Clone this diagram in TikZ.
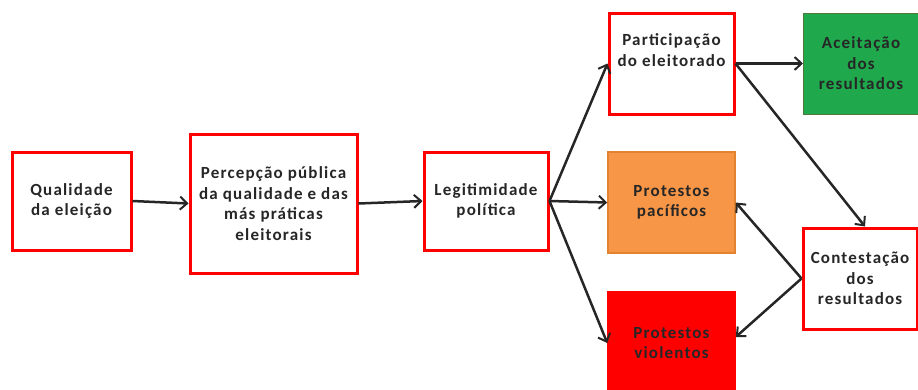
\documentclass[tikz,border=0pt]{standalone}
\usepackage{fontspec}
\setmainfont{Carlito}
\newfontfamily\boxfont[LetterSpace=7]{Carlito}
\usetikzlibrary{arrows.meta}
\definecolor{boxred}{HTML}{FF0000}
\definecolor{okgreen}{HTML}{1FA84C}
\definecolor{okgreenline}{HTML}{4E7A3A}
\definecolor{calmorange}{HTML}{F79646}
\definecolor{calmorangeline}{HTML}{E4832F}
\definecolor{ink}{HTML}{262626}
\tikzset{
  box/.style={draw=boxred, line width=3pt, fill=white, align=center,
    font=\boxfont\fontsize{17}{20.5}\selectfont\bfseries, text=ink, inner sep=0pt},
  accepted/.style={box, draw=okgreenline, line width=1pt, fill=okgreen},
  peaceful/.style={box, draw=calmorangeline, line width=1.5pt, fill=calmorange},
  violent/.style={box, fill=boxred, line width=1.5pt},
  flow/.style={line width=2.5pt, draw=black!85,
    -{Straight Barb[length=7pt,width=13pt,line width=2pt]}}
}
\begin{document}
\begin{tikzpicture}[x=1pt,y=-1pt]
  \useasboundingbox (0,0) rectangle (918,389);
  % stages of the chain
  \node[box, minimum width=119pt, minimum height=98pt] (q) at (71.5,201)
    {Qualidade\\da eleição};
  \node[box, minimum width=167pt, minimum height=139pt] (p) at (273.5,203.5)
    {Percepção pública\\da qualidade e das\\más práticas\\eleitorais};
  \node[box, minimum width=124pt, minimum height=98pt] (l) at (486,201)
    {Legitimidade\\política};
  % outcomes
  \node[box, minimum width=125pt, minimum height=101pt] (part) at (671.5,63.5)
    {Participação\\do eleitorado\\\strut};
  \node[accepted, minimum width=115pt, minimum height=101pt] (ac) at (861,63.5)
    {Aceitação\\dos\\resultados};
  \node[peaceful, minimum width=127pt, minimum height=101pt] (pp) at (671.5,202.5)
    {Protestos\\pacíficos};
  \node[violent, minimum width=127pt, minimum height=102pt] (pv) at (671.5,343)
    {Protestos\\violentos};
  \node[box, minimum width=114pt, minimum height=101pt] (c) at (860,278.5)
    {Contestação\\dos\\resultados};
  % connectors
  \draw[flow] (q.east) -- (p.west);
  \draw[flow] (p.east) -- (l.west);
  \draw[flow] (l.east) -- (part.west);
  \draw[flow] (l.east) -- (pp.west);
  \draw[flow] (l.east) -- (pv.west);
  \draw[flow] (part.east) -- (ac.west);
  \draw[flow] (part.east) -- ([xshift=5pt]c.north);
  \draw[flow] (c.west) -- (pp.east);
  \draw[flow] (c.west) -- ([yshift=6pt]pv.east);
\end{tikzpicture}
\end{document}
